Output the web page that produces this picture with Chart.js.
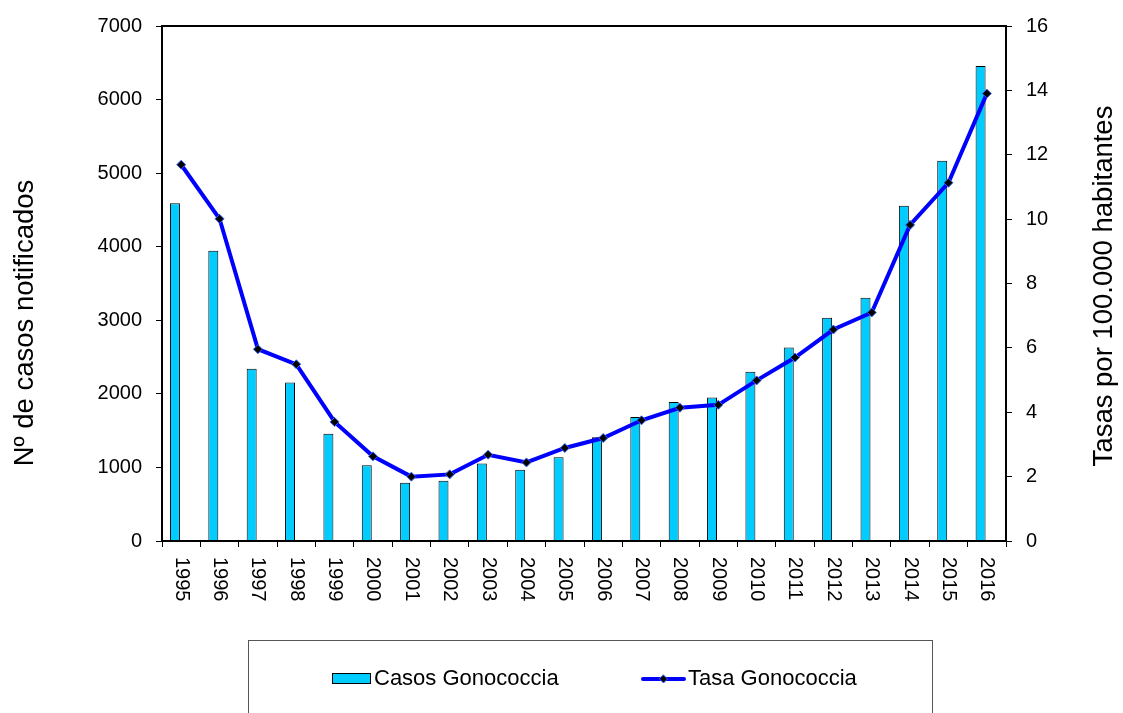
<!DOCTYPE html>
<html>
<head>
<meta charset="utf-8">
<script src="https://cdn.jsdelivr.net/npm/chart.js@4/dist/chart.umd.min.js"></script>
<style>
html,body{margin:0;padding:0;background:#fff;}
#wrap{width:1123px;height:713px;position:relative;}
</style>
</head>
<body>
<div id="wrap"><canvas id="c" width="1123" height="713"></canvas></div>
<script>
const years = ["1995","1996","1997","1998","1999","2000","2001","2002","2003","2004","2005","2006","2007","2008","2009","2010","2011","2012","2013","2014","2015","2016"];
const casosGonococcia = [4590,3945,2340,2156,1457,1030,791,818,1053,970,1140,1411,1687,1890,1949,2299,2630,3034,3306,4556,5168,6455];
const tasaGonococcia = [11.69,10.01,5.96,5.49,3.70,2.63,2.00,2.07,2.68,2.44,2.89,3.20,3.75,4.14,4.23,4.99,5.70,6.57,7.10,9.82,11.13,13.90];
const leftTicks = [0,1000,2000,3000,4000,5000,6000,7000];
const rightTicks = [0,2,4,6,8,10,12,14,16];
const seriesNames = ["Casos Gonococcia","Tasa Gonococcia"];
const axisTitles = ["Nº de casos notificados","Tasas por 100.000 habitantes"];

const FONT = '"Liberation Sans", Arial, sans-serif';
const BAR_COLOR = '#00CCFF';
const LINE_COLOR = '#0000FF';

const customDraw = {
  id: 'customDraw',
  afterDraw(chart) {
    const ctx = chart.ctx;
    const a = chart.chartArea;
    const xs = chart.scales.x;
    ctx.save();
    ctx.strokeStyle = '#000';
    ctx.lineWidth = 2;
    ctx.strokeRect(a.left, a.top, a.right - a.left, a.bottom - a.top);
    ctx.fillStyle = '#000';
    ctx.font = '20px ' + FONT;
    ctx.textAlign = 'left';
    ctx.textBaseline = 'middle';
    years.forEach((y, i) => {
      const x = xs.getPixelForValue(i);
      ctx.save();
      ctx.translate(x, a.bottom + 16);
      ctx.rotate(Math.PI / 2);
      ctx.fillText(y, 0, 0);
      ctx.restore();
    });
    ctx.font = '27.5px ' + FONT;
    ctx.textAlign = 'center';
    ctx.textBaseline = 'alphabetic';
    ctx.save();
    ctx.translate(33, 323);
    ctx.rotate(-Math.PI / 2);
    ctx.fillText(axisTitles[0], 0, 0);
    ctx.restore();
    ctx.save();
    ctx.translate(1112, 286);
    ctx.rotate(-Math.PI / 2);
    ctx.fillText(axisTitles[1], 0, 0);
    ctx.restore();
    ctx.strokeStyle = '#555';
    ctx.lineWidth = 1;
    ctx.strokeRect(248.5, 640.5, 684, 120);
    ctx.fillStyle = BAR_COLOR;
    ctx.fillRect(332, 673, 39, 11);
    ctx.strokeStyle = '#000';
    ctx.strokeRect(332.5, 673.5, 38, 10);
    ctx.fillStyle = '#000';
    ctx.font = '22px ' + FONT;
    ctx.textAlign = 'left';
    ctx.textBaseline = 'middle';
    ctx.fillText(seriesNames[0], 374, 679);
    ctx.strokeStyle = LINE_COLOR;
    ctx.lineWidth = 4;
    ctx.lineCap = 'round';
    ctx.beginPath();
    ctx.moveTo(643, 679);
    ctx.lineTo(684, 679);
    ctx.stroke();
    ctx.fillStyle = '#000';
    ctx.strokeStyle = '#3366FF';
    ctx.lineWidth = 1;
    ctx.beginPath();
    ctx.moveTo(663.5, 675);
    ctx.lineTo(667.5, 679);
    ctx.lineTo(663.5, 683);
    ctx.lineTo(659.5, 679);
    ctx.closePath();
    ctx.fill();
    ctx.stroke();
    ctx.fillStyle = '#000';
    ctx.fillText(seriesNames[1], 688, 679);
    ctx.restore();
  }
};

new Chart(document.getElementById('c'), {
  data: {
    labels: years,
    datasets: [
      {
        type: 'bar',
        label: seriesNames[0],
        data: casosGonococcia,
        backgroundColor: BAR_COLOR,
        borderColor: '#000',
        borderWidth: 1,
        borderSkipped: 'bottom',
        yAxisID: 'y',
        categoryPercentage: 0.65,
        barPercentage: 0.8,
        order: 2
      },
      {
        type: 'bar',
        label: '',
        data: years.map(() => null),
        backgroundColor: 'rgba(0,0,0,0)',
        yAxisID: 'y',
        categoryPercentage: 0.65,
        barPercentage: 0.8,
        order: 3
      },
      {
        type: 'line',
        label: seriesNames[1],
        data: tasaGonococcia,
        borderColor: LINE_COLOR,
        borderWidth: 4,
        tension: 0,
        pointStyle: 'rectRot',
        pointRadius: 4.5,
        pointBackgroundColor: '#000',
        pointBorderColor: '#3366FF',
        pointBorderWidth: 1,
        yAxisID: 'y1',
        order: 1
      }
    ]
  },
  options: {
    responsive: false,
    animation: false,
    devicePixelRatio: 1,
    layout: { padding: { top: 25, left: 0, right: 0, bottom: 0 } },
    plugins: {
      legend: { display: false },
      tooltip: { enabled: false },
      title: { display: false }
    },
    scales: {
      x: {
        type: 'category',
        offset: true,
        grid: { display: true, drawOnChartArea: false, drawTicks: true, tickLength: 6, color: '#000', offset: true, lineWidth: 1 },
        border: { display: true, color: '#000', width: 2 },
        ticks: { display: false },
        afterFit(s) { s.height = 713 - 541; }
      },
      y: {
        position: 'left',
        min: 0, max: 7000,
        afterBuildTicks(s) { s.ticks = leftTicks.map(v => ({ value: v })); },
        grid: { drawOnChartArea: false, drawTicks: true, tickLength: 6, color: '#000' },
        border: { display: true, color: '#000', width: 2 },
        ticks: { color: '#000', font: { size: 20, family: FONT }, padding: 14, callback: (v) => String(v) },
        afterFit(s) { s.width = 162; }
      },
      y1: {
        position: 'right',
        min: 0, max: 16,
        afterBuildTicks(s) { s.ticks = rightTicks.map(v => ({ value: v })); },
        grid: { drawOnChartArea: false, drawTicks: true, tickLength: 6, color: '#000' },
        border: { display: true, color: '#000', width: 2 },
        ticks: { color: '#000', font: { size: 20, family: FONT }, padding: 14, callback: (v) => String(v) },
        afterFit(s) { s.width = 1123 - 1006; }
      }
    }
  },
  plugins: [customDraw]
});
</script>
</body>
</html>
